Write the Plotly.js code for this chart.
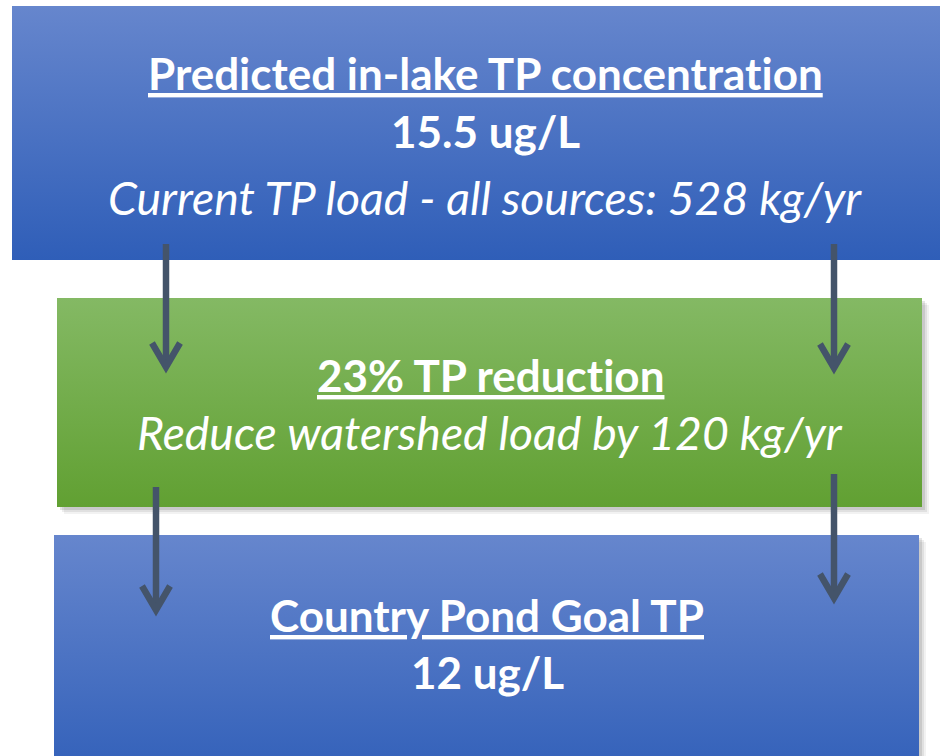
<!DOCTYPE html>
<html><head><meta charset="utf-8">
<script src="https://cdn.plot.ly/plotly-3.0.1.min.js"></script>
<style>html,body{margin:0;padding:0;background:#fff}#c{width:940px;height:756px}
svg text{font-variant-ligatures:none !important;font-feature-settings:"liga" 0 !important}</style>
</head><body><div id="c"></div>
<script>
// ---- data ----
const boxTitles = ["Predicted in-lake TP concentration", "23% TP reduction", "Country Pond Goal TP"];
const boxValues = ["15.5 ug/L", "", "12 ug/L"];
const boxNotes  = ["Current TP load - all sources: 528 kg/yr", "Reduce watershed load by 120 kg/yr", ""];

// ---- layout geometry (pixels) ----
const boxes = [
  {x0: 12, x1: 958, y0: 6,   y1: 260, top: "#6686CD", bot: "#2F5EB8", shadow: false},
  {x0: 57, x1: 922, y0: 298, y1: 507, top: "#84B964", bot: "#61A032", shadow: true},
  {x0: 54, x1: 919, y0: 535, y1: 790, top: "#6686CD", bot: "#2F5EB8", shadow: true}
];
const lines = [
  {title: 88, value: 146, note: 212},
  {title: 390, value: null, note: 447},
  {title: 630, value: 687, note: null}
];
const arrows = [
  {x: 166, y0: 244, y1: 370}, {x: 834, y0: 244, y1: 371},
  {x: 156, y0: 487, y1: 613}, {x: 834, y0: 474, y1: 601}
];
const arrowColor = "#44546A";

const traces = [];
const rect = (b, dx, dy) => ({x: [b.x0+dx, b.x1+dx, b.x1+dx, b.x0+dx, b.x0+dx], y: [b.y0+dy, b.y0+dy, b.y1+dy, b.y1+dy, b.y0+dy]});
boxes.forEach(b => {
  if (b.shadow) {
    [[7, 0.05], [5, 0.07], [3, 0.10]].forEach(([o, a]) => {
      const r = rect(b, o, o);
      traces.push({type: "scatter", mode: "lines", x: r.x, y: r.y, fill: "toself", fillcolor: `rgba(0,0,0,${a})`, line: {width: 0}, hoverinfo: "skip", showlegend: false});
    });
  }
  const r = rect(b, 0, 0);
  traces.push({type: "scatter", mode: "lines", x: r.x, y: r.y, fill: "toself",
    fillgradient: {type: "vertical", start: b.y0, stop: b.y1, colorscale: [[0, b.top], [1, b.bot]]},
    line: {width: 0}, hoverinfo: "skip", showlegend: false});
});
arrows.forEach(a => {
  traces.push({type: "scatter", mode: "lines", x: [a.x, a.x], y: [a.y0, a.y1 - 3], line: {color: arrowColor, width: 6.5}, hoverinfo: "skip", showlegend: false});
  traces.push({type: "scatter", mode: "lines", x: [a.x - 14, a.x, a.x + 14], y: [a.y1 - 27, a.y1 - 3, a.y1 - 27], line: {color: arrowColor, width: 6.5}, hoverinfo: "skip", showlegend: false});
});

const F = "Lato, 'Open Sans', sans-serif";
const cx = [485, 490, 487];
const ann = [];
const tSize = 44, vSize = 44, nSize = 46.4;
boxTitles.forEach((t, i) => {
  if (t) ann.push({x: cx[i], y: lines[i].title - 0.33*tSize, text: "<b><u>" + t + "</u></b>", font: {family: F, size: tSize, color: "#fff"}});
  if (boxValues[i]) ann.push({x: cx[i], y: lines[i].value - 0.33*vSize, text: "<b>" + boxValues[i] + "</b>", font: {family: F, size: vSize, color: "#fff"}});
  if (boxNotes[i]) ann.push({x: cx[i], y: lines[i].note - 0.33*nSize, text: "<i>" + boxNotes[i] + "</i>", font: {family: F, size: nSize, color: "#fff"}});
});
ann.forEach(a => { a.xref = "x"; a.yref = "y"; a.showarrow = false; a.xanchor = "center"; a.yanchor = "middle"; });

Plotly.newPlot("c", traces, {
  width: 940, height: 756, margin: {l: 0, r: 0, t: 0, b: 0},
  paper_bgcolor: "#fff", plot_bgcolor: "#fff",
  xaxis: {range: [0, 940], visible: false, fixedrange: true},
  yaxis: {range: [756, 0], visible: false, fixedrange: true},
  annotations: ann, showlegend: false
}, {displayModeBar: false, staticPlot: true});
</script></body></html>
